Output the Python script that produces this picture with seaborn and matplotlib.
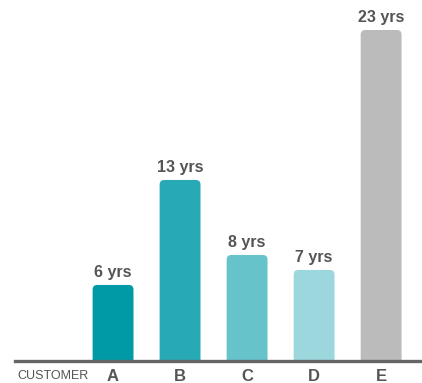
import seaborn as sns
import pandas as pd
import matplotlib.pyplot as plt
from matplotlib.patches import FancyBboxPatch

customers = ["A", "B", "C", "D", "E"]
years = [6, 13, 8, 7, 23]
bar_colors = ["#009aa6", "#27a9b6", "#66c3ca", "#9cd7de", "#bbbbbb"]

sns.set_theme(style="white")
plt.rcParams["font.family"] = ["Liberation Sans", "DejaVu Sans"]

df = pd.DataFrame({"customer": customers, "years": years})

fig = plt.figure(figsize=(4.22, 3.83), dpi=100)
ax = fig.add_axes([15 / 422, 22 / 383, 407 / 422, 361 / 383])

sns.barplot(data=df, x="customer", y="years", hue="customer",
            palette=bar_colors, width=0.61, saturation=1, legend=False, ax=ax)

ax.set_xlim(-1.463, 4.61)
ax.set_ylim(0.93, 25)

# swap plain bars for ones with rounded tops
for p in list(ax.patches):
    x, y = p.get_x(), p.get_y()
    w, h = p.get_width(), p.get_height()
    rb = FancyBboxPatch((x, y), w, h, boxstyle="round,pad=0,rounding_size=0.07",
                        mutation_aspect=4.47, facecolor=p.get_facecolor(),
                        edgecolor="none", zorder=2)
    p.remove()
    ax.add_patch(rb)

for i, v in enumerate(years):
    ax.text(i, v + 0.35, f"{v} yrs", ha="center", va="bottom",
            fontsize=11.5, color="#555555", fontweight="bold")

for s in ["top", "right", "left"]:
    ax.spines[s].set_visible(False)
ax.spines["bottom"].set_color("#666666")
ax.spines["bottom"].set_linewidth(2.4)
ax.spines["bottom"].set_zorder(5)

ax.set_yticks([])
ax.set_xlabel("")
ax.set_ylabel("")
ax.tick_params(axis="x", length=0, pad=6)
for lbl in ax.get_xticklabels():
    lbl.set_fontsize(12)
    lbl.set_fontweight("bold")
    lbl.set_color("#555555")

ax.text(-0.9, -0.042, "CUSTOMER", transform=ax.get_xaxis_transform(),
        ha="center", va="center", fontsize=9, color="#555555")

fig.savefig("out.png", dpi=100)
